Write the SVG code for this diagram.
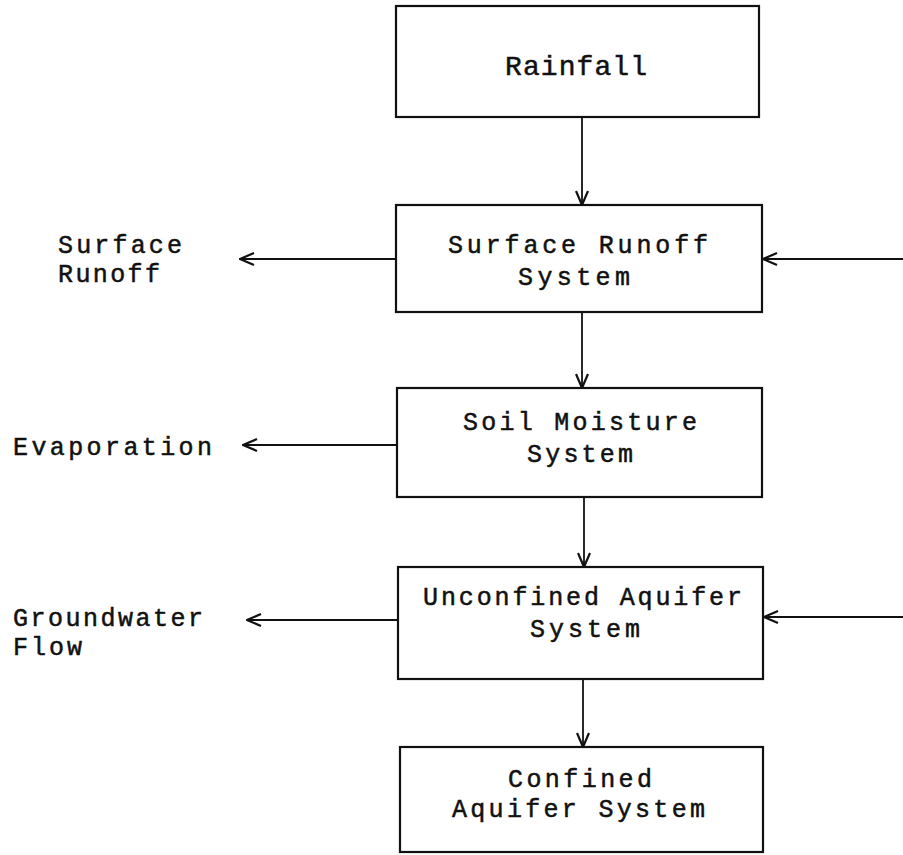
<svg xmlns="http://www.w3.org/2000/svg" width="903" height="855" viewBox="0 0 903 855">
  <style>
    .box { fill: #ffffff; stroke: #111111; stroke-width: 2.2; }
    .lbl { font-family: "Liberation Mono", "Courier New", monospace; font-size: 25px; fill: #111111; stroke: #111111; stroke-width: 0.5; }
    .big { font-size: 28px; }
    .link { stroke: #111111; stroke-width: 1.8; fill: none; marker-end: url(#vee); }
  </style>
  <defs>
    <marker id="vee" markerUnits="userSpaceOnUse" viewBox="0 0 16 14" refX="15" refY="7" markerWidth="16" markerHeight="14" orient="auto">
      <path d="M1,1 L15,7 L1,13" fill="none" stroke="#111111" stroke-width="2.2"/>
    </marker>
  </defs>
  <rect width="903" height="855" fill="#ffffff"/>

  <g id="connectors">
    <line class="link" x1="582" y1="117" x2="582" y2="205"/>
    <line class="link" x1="582" y1="312" x2="582" y2="388"/>
    <line class="link" x1="584" y1="497" x2="584" y2="567"/>
    <line class="link" x1="583" y1="679" x2="583" y2="747"/>
    <line class="link" x1="396" y1="259" x2="240" y2="259"/>
    <line class="link" x1="397" y1="445" x2="243" y2="445"/>
    <line class="link" x1="398" y1="620" x2="247" y2="620"/>
    <line class="link" x1="903" y1="259" x2="763" y2="259"/>
    <line class="link" x1="903" y1="617" x2="764" y2="617"/>
  </g>

  <g id="rainfall">
    <rect class="box" x="396" y="6" width="363" height="111"/>
    <text class="lbl big" x="505" y="75" textLength="142" lengthAdjust="spacing">Rainfall</text>
  </g>

  <g id="surface-runoff-system">
    <rect class="box" x="396" y="205" width="366" height="107"/>
    <text class="lbl" x="448" y="253" textLength="260" lengthAdjust="spacing">Surface Runoff</text>
    <text class="lbl" x="518" y="285" textLength="112" lengthAdjust="spacing">System</text>
  </g>

  <g id="soil-moisture-system">
    <rect class="box" x="397" y="388" width="365" height="109"/>
    <text class="lbl" x="463" y="430" textLength="234" lengthAdjust="spacing">Soil Moisture</text>
    <text class="lbl" x="527" y="462" textLength="106" lengthAdjust="spacing">System</text>
  </g>

  <g id="unconfined-aquifer-system">
    <rect class="box" x="398" y="567" width="365" height="112"/>
    <text class="lbl" x="423" y="605" textLength="319" lengthAdjust="spacing">Unconfined Aquifer</text>
    <text class="lbl" x="530" y="637" textLength="110" lengthAdjust="spacing">System</text>
  </g>

  <g id="confined-aquifer-system">
    <rect class="box" x="400" y="747" width="363" height="105"/>
    <text class="lbl" x="508" y="787" textLength="144" lengthAdjust="spacing">Confined</text>
    <text class="lbl" x="452" y="817" textLength="253" lengthAdjust="spacing">Aquifer System</text>
  </g>

  <g id="surface-runoff-out">
    <text class="lbl" x="58" y="253" textLength="124" lengthAdjust="spacing">Surface</text>
    <text class="lbl" x="58" y="282" textLength="102" lengthAdjust="spacing">Runoff</text>
  </g>

  <g id="evaporation-out">
    <text class="lbl" x="13" y="455" textLength="199" lengthAdjust="spacing">Evaporation</text>
  </g>

  <g id="groundwater-flow-out">
    <text class="lbl" x="13" y="626" textLength="190" lengthAdjust="spacing">Groundwater</text>
    <text class="lbl" x="13" y="655" textLength="69" lengthAdjust="spacing">Flow</text>
  </g>
</svg>
